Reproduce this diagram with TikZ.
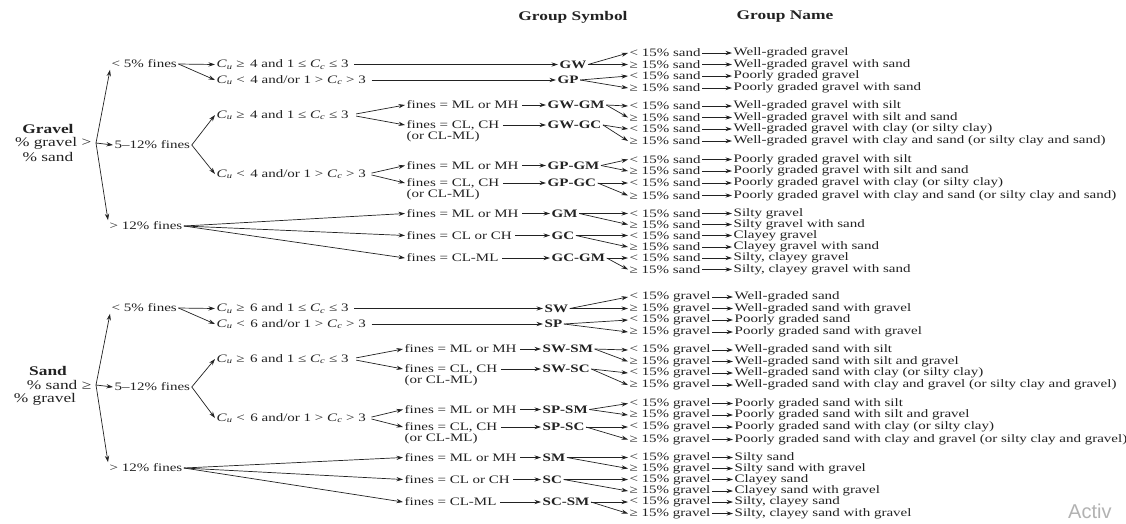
\documentclass[tikz,border=0pt]{standalone}
\usepackage{fontspec}
\setmainfont{Liberation Serif}[FakeStretch=1.315]
\newfontfamily\wmfont{Liberation Sans}
\usetikzlibrary{arrows.meta}
\definecolor{ink}{HTML}{222222}
\newcommand\myCu{\textit{C}\textsubscript{\textit{u}}}
\newcommand\myCc{\textit{C}\textsubscript{\textit{c}}}
\begin{document}
\begin{tikzpicture}[x=1pt,y=-1pt,
  txt/.style={anchor=west,inner sep=1.5pt,text=ink,font=\fontsize{11.4}{12}\selectfont},
  sym/.style={txt,font=\fontsize{11.4}{12}\selectfont\bfseries},
  big/.style={inner sep=1.5pt,text=ink,font=\fontsize{13.2}{14}\selectfont},
  head/.style={big,font=\fontsize{13.2}{14}\selectfont\bfseries},
  arr/.style={draw=ink,line width=0.7pt,-{Stealth[length=6.5pt,width=4.2pt]}},
]
\useasboundingbox (0,0) rectangle (1126,523);
\fill[white] (0,0) rectangle (1126,523);

\node[head] (hs) at (573,17) {Group Symbol};
\node[head] (hn) at (785,17) {Group Name};

% ================= GRAVEL =================
\node[head] (gT) at (48,129) {Gravel};
\node[big,anchor=east] (gL) at (93,143) {\% gravel >};
\node[big] (gS) at (48,157) {\% sand};
\coordinate (gsp) at (96,143);

\node[txt] (gf1) at (110,64) {< 5\% fines};
\node[txt] (gf2) at (113,145) {5–12\% fines};
\node[txt] (gf3) at (108,226) {> 12\% fines};

\node[txt] (gc1) at (215,64.5) {\myCu{} ≥ \,4 and 1 ≤ \myCc{} ≤ 3};
\node[txt] (gc2) at (215,80) {\myCu{} < \,4 and/or 1 > \myCc{} > 3};
\node[txt] (gc3) at (215,115) {\myCu{} ≥ \,4 and 1 ≤ \myCc{} ≤ 3};
\node[txt] (gc4) at (215,174) {\myCu{} < \,4 and/or 1 > \myCc{} > 3};

\node[txt] (gm1) at (405,105) {fines = ML or MH};
\node[txt] (gm2) at (405,125) {fines = CL, CH};
\node[txt] (go2) at (405,137) {(or CL-ML)};
\node[txt] (gm3) at (405,165.5) {fines = ML or MH};
\node[txt] (gm4) at (405,183) {fines = CL, CH};
\node[txt] (go4) at (405,195) {(or CL-ML)};
\node[txt] (gm5) at (405,213.5) {fines = ML or MH};
\node[txt] (gm6) at (405,235.5) {fines = CL or CH};
\node[txt] (gm7) at (405,258) {fines = CL-ML};

\node[sym] (gs1) at (558,64.5) {GW};
\node[sym] (gs2) at (556,80) {GP};
\node[sym] (gs3) at (546,105) {GW-GM};
\node[sym] (gs4) at (546,125) {GW-GC};
\node[sym] (gs5) at (546,165.5) {GP-GM};
\node[sym] (gs6) at (546,183) {GP-GC};
\node[sym] (gs7) at (550,213.5) {GM};
\node[sym] (gs8) at (550,235.5) {GC};
\node[sym] (gs9) at (550,258) {GC-GM};

\foreach \i/\y/\c/\t in {
  1/53/</{Well-graded gravel},
  2/64.5/≥/{Well-graded gravel with sand},
  3/76/</{Poorly graded gravel},
  4/88/≥/{Poorly graded gravel with sand},
  5/106/</{Well-graded gravel with silt},
  6/117.5/≥/{Well-graded gravel with silt and sand},
  7/129/</{Well-graded gravel with clay (or silty clay)},
  8/141/≥/{Well-graded gravel with clay and sand (or silty clay and sand)},
  9/159.5/</{Poorly graded gravel with silt},
  10/171/≥/{Poorly graded gravel with silt and sand},
  11/183/</{Poorly graded gravel with clay (or silty clay)},
  12/195.5/≥/{Poorly graded gravel with clay and sand (or silty clay and sand)},
  13/213.5/</{Silty gravel},
  14/224.5/≥/{Silty gravel with sand},
  15/235.5/</{Clayey gravel},
  16/247/≥/{Clayey gravel with sand},
  17/258/</{Silty, clayey gravel},
  18/269.5/≥/{Silty, clayey gravel with sand}} {
  \node[txt] (gx\i) at (628,\y) {\c{} 15\% sand};
  \node[txt] (gn\i) at (732,\y) {\t};
  \draw[arr] (gx\i.east) -- (gn\i.west);
}

\draw[arr] (gsp) -- (gf1.south west);
\draw[arr] (gsp) -- (gf2.west);
\draw[arr] (gsp) -- (gf3.north west);
\draw[arr] (gf1.east) -- (gc1.west);
\draw[arr] (gf1.east) -- (gc2.west);
\draw[arr] (gf2.east) -- (gc3.west);
\draw[arr] (gf2.east) -- (gc4.west);
\draw[arr] (gf3.east) -- (gm5.west);
\draw[arr] (gf3.east) -- (gm6.west);
\draw[arr] (gf3.east) -- (gm7.west);
\draw[arr,shorten <=4pt] (gc1.east) -- (gs1.west);
\draw[arr,shorten <=4pt] (gc2.east) -- (gs2.west);
\draw[arr,shorten <=6pt] (gc3.east) -- (gm1.west);
\draw[arr,shorten <=6pt] (gc3.east) -- (gm2.west);
\draw[arr,shorten <=4pt] (gc4.east) -- (gm3.west);
\draw[arr,shorten <=4pt] (gc4.east) -- (gm4.west);
\foreach \a/\b in {1/3,2/4,3/5,4/6,5/7,6/8,7/9}
  \draw[arr,shorten <=2pt] (gm\a.east) -- (gs\b.west);
\foreach \s/\a/\b in {1/1/2,2/3/4,3/5/6,4/7/8,5/9/10,6/11/12,7/13/14,8/15/16,9/17/18} {
  \draw[arr] (gs\s.east) -- (gx\a.west);
  \draw[arr] (gs\s.east) -- (gx\b.west);
}

% ================= SAND =================
\begin{scope}[yshift=-244pt]
\node[head] (sT) at (48,127) {Sand};
\node[big,anchor=east] (sL) at (93,141) {\% sand ≥};
\node[big] (sS) at (45,155) {\% gravel};
\coordinate (ssp) at (96,141);

\node[txt] (sf1) at (110,64) {< 5\% fines};
\node[txt] (sf2) at (113,143) {5–12\% fines};
\node[txt] (sf3) at (108,224) {> 12\% fines};

\node[txt] (sc1) at (215,64.5) {\myCu{} ≥ \,6 and 1 ≤ \myCc{} ≤ 3};
\node[txt] (sc2) at (215,80) {\myCu{} < \,6 and/or 1 > \myCc{} > 3};
\node[txt] (sc3) at (215,115) {\myCu{} ≥ \,6 and 1 ≤ \myCc{} ≤ 3};
\node[txt] (sc4) at (215,174) {\myCu{} < \,6 and/or 1 > \myCc{} > 3};

\node[txt] (sm1) at (403,105) {fines = ML or MH};
\node[txt] (sm2) at (403,125) {fines = CL, CH};
\node[txt] (so2) at (403,137) {(or CL-ML)};
\node[txt] (sm3) at (403,165.5) {fines = ML or MH};
\node[txt] (sm4) at (403,183) {fines = CL, CH};
\node[txt] (so4) at (403,195) {(or CL-ML)};
\node[txt] (sm5) at (403,213.5) {fines = ML or MH};
\node[txt] (sm6) at (403,235.5) {fines = CL or CH};
\node[txt] (sm7) at (403,258) {fines = CL-ML};

\node[sym] (ss1) at (543,64.5) {SW};
\node[sym] (ss2) at (543,80) {SP};
\node[sym] (ss3) at (541,105) {SW-SM};
\node[sym] (ss4) at (541,125) {SW-SC};
\node[sym] (ss5) at (541,165.5) {SP-SM};
\node[sym] (ss6) at (541,183) {SP-SC};
\node[sym] (ss7) at (541,213.5) {SM};
\node[sym] (ss8) at (541,235.5) {SC};
\node[sym] (ss9) at (541,258) {SC-SM};

\foreach \i/\y/\c/\t in {
  1/53/</{Well-graded sand},
  2/64.5/≥/{Well-graded sand with gravel},
  3/76/</{Poorly graded sand},
  4/88/≥/{Poorly graded sand with gravel},
  5/106/</{Well-graded sand with silt},
  6/117.5/≥/{Well-graded sand with silt and gravel},
  7/129/</{Well-graded sand with clay (or silty clay)},
  8/141/≥/{Well-graded sand with clay and gravel (or silty clay and gravel)},
  9/159.5/</{Poorly graded sand with silt},
  10/171/≥/{Poorly graded sand with silt and gravel},
  11/183/</{Poorly graded sand with clay (or silty clay)},
  12/195.5/≥/{Poorly graded sand with clay and gravel (or silty clay and gravel)},
  13/213.5/</{Silty sand},
  14/224.5/≥/{Silty sand with gravel},
  15/235.5/</{Clayey sand},
  16/247/≥/{Clayey sand with gravel},
  17/258/</{Silty, clayey sand},
  18/269.5/≥/{Silty, clayey sand with gravel}} {
  \node[txt] (sx\i) at (628,\y) {\c{} 15\% gravel};
  \node[txt] (sn\i) at (733,\y) {\t};
  \draw[arr] (sx\i.east) -- (sn\i.west);
}

\draw[arr] (ssp) -- (sf1.south west);
\draw[arr] (ssp) -- (sf2.west);
\draw[arr] (ssp) -- (sf3.north west);
\draw[arr] (sf1.east) -- (sc1.west);
\draw[arr] (sf1.east) -- (sc2.west);
\draw[arr] (sf2.east) -- (sc3.west);
\draw[arr] (sf2.east) -- (sc4.west);
\draw[arr] (sf3.east) -- (sm5.west);
\draw[arr] (sf3.east) -- (sm6.west);
\draw[arr] (sf3.east) -- (sm7.west);
\draw[arr,shorten <=4pt] (sc1.east) -- (ss1.west);
\draw[arr,shorten <=4pt] (sc2.east) -- (ss2.west);
\draw[arr,shorten <=6pt] (sc3.east) -- (sm1.west);
\draw[arr,shorten <=6pt] (sc3.east) -- (sm2.west);
\draw[arr,shorten <=4pt] (sc4.east) -- (sm3.west);
\draw[arr,shorten <=4pt] (sc4.east) -- (sm4.west);
\foreach \a/\b in {1/3,2/4,3/5,4/6,5/7,6/8,7/9}
  \draw[arr,shorten <=2pt] (sm\a.east) -- (ss\b.west);
\foreach \s/\a/\b in {1/1/2,2/3/4,3/5/6,4/7/8,5/9/10,6/11/12,7/13/14,8/15/16,9/17/18} {
  \draw[arr] (ss\s.east) -- (sx\a.west);
  \draw[arr] (ss\s.east) -- (sx\b.west);
}
\end{scope}

\node[anchor=west,inner sep=0pt,text=black!30,font=\wmfont\fontsize{20}{21}\selectfont] (wm) at (1068,511) {Activ};
\end{tikzpicture}
\end{document}
